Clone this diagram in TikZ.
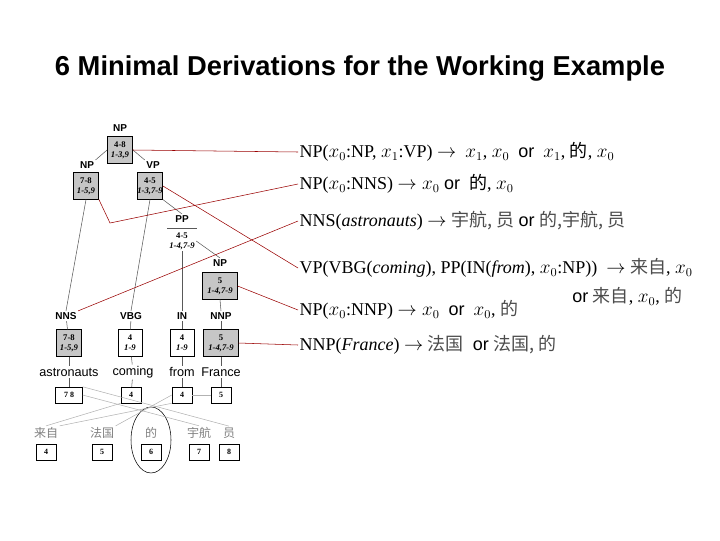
\documentclass[tikz,border=0pt]{standalone}
\usepackage{fontspec}
\setmainfont{Liberation Serif}
\setsansfont{Liberation Sans}
\newfontfamily\cjk{Noto Sans CJK SC}
\begin{document}
\begin{tikzpicture}[x=0.75pt,y=-0.75pt,
  lab/.style={font=\sffamily\bfseries\fontsize{7.5}{8}\selectfont,inner sep=1pt},
  gbox/.style={draw,fill=gray!45,minimum width=19pt,minimum height=20pt,inner sep=0pt,align=center,font=\bfseries\fontsize{6.5}{7.5}\selectfont},
  wbox/.style={gbox,fill=white},
  word/.style={font=\sffamily\fontsize{9.5}{10}\selectfont,inner sep=1pt},
  ibox/.style={draw,minimum width=15pt,minimum height=12pt,inner sep=0pt,font=\bfseries\fontsize{6}{7}\selectfont},
  zh/.style={font=\cjk\fontsize{9}{10}\selectfont,text=gray,inner sep=1pt},
  tl/.style={gray!70!black,thin},
  al/.style={gray!60,thin},
  rl/.style={red!60!black,thin},
  rule/.style={anchor=west,font=\fontsize{13.5}{15}\selectfont,inner sep=1pt}]
\useasboundingbox (0,0) rectangle (720,540);
\node[font=\sffamily\bfseries\fontsize{20.5}{24}\selectfont] (title) at (360,68) {6 Minimal Derivations for the Working Example};
% tree
\node[lab] (lNP0) at (120,128) {NP};
\node[gbox] (bNP0) at (120,150) {4-8\\\textit{1-3,9}};
\node[lab] (lNP1) at (87,165) {NP};
\node[gbox] (bNP1) at (86,186) {7-8\\\textit{1-5,9}};
\node[lab] (lVP) at (153,165) {VP};
\node[gbox] (bVP) at (150,186) {4-5\\\textit{1-3,7-9}};
\node[lab] (lPP) at (182,219) {PP};
\node[align=center,font=\bfseries\fontsize{6.5}{7.5}\selectfont,inner sep=1pt] (bPP) at (182,241) {4-5\\\textit{1-4,7-9}};
\draw[tl] (167,228) -- (197,228);
\node[lab] (lNP2) at (220,263) {NP};
\node[gbox,minimum width=26pt] (bNP2) at (220,286) {5\\\textit{1-4,7-9}};
\node[lab] (lNNS) at (66,316) {NNS};
\node[gbox] (bNNS) at (69,343) {7-8\\\textit{1-5,9}};
\node[lab] (lVBG) at (131,316) {VBG};
\node[wbox,minimum width=18pt] (bVBG) at (130,343) {4\\\textit{1-9}};
\node[lab] (lIN) at (182,316) {IN};
\node[wbox,minimum width=18pt] (bIN) at (182,343) {4\\\textit{1-9}};
\node[lab] (lNNP) at (221,316) {NNP};
\node[gbox,minimum width=26pt] (bNNP) at (221,343) {5\\\textit{1-4,7-9}};
\node[word] (wA) at (69,372) {astronauts};
\node[word] (wC) at (133,372) {coming};
\node[word] (wF) at (182,372) {from};
\node[word] (wR) at (221,372) {France};
\node[ibox,minimum width=20pt] (i78) at (69,395) {7 8};
\node[ibox] (i4a) at (131,395) {4};
\node[ibox] (i4b) at (182,395) {4};
\node[ibox] (i5) at (221,395) {5};
\node[zh] (z1) at (46,433) {来自};
\node[zh] (z2) at (102,433) {法国};
\node[zh] (z3) at (151,433) {的};
\node[zh] (z4) at (199,433) {宇航};
\node[zh] (z5) at (229,433) {员};
\node[ibox] (j4) at (46,452) {4};
\node[ibox] (j5) at (102,452) {5};
\node[ibox] (j6) at (151,452) {6};
\node[ibox] (j7) at (199,452) {7};
\node[ibox] (j8) at (229,452) {8};
\draw[thin] (151,440) ellipse (20 and 33);
% tree edges
\draw[tl] (bNP0.west) -- (lNP1.north east);
\draw[tl] (bNP0.east) -- (lVP.north west);
\draw[tl] (bNP1.south) -- (lNNS.north);
\draw[tl] (bVP.south) -- (lVBG.north);
\draw[tl] (bVP.south east) -- (lPP.north);
\draw[tl] (bPP.south) -- (lIN.north);
\draw[tl] (bPP.east) -- (lNP2.north);
\draw[tl] (bNP2.south) -- (lNNP.north);
\foreach \l/\b/\w/\i in {lNNS/bNNS/wA/i78,lVBG/bVBG/wC/i4a,lIN/bIN/wF/i4b,lNNP/bNNP/wR/i5}{
  \draw[tl] (\l) -- (\b); \draw[tl] (\b) -- (\w); \draw[tl] (\w) -- (\i);}
% alignments
\draw[al] (i78.east) -- (z4.north);
\draw[al] (i78.north east) -- (z5.north);
\draw[al] (i4a.south west) -- (z1.north);
\draw[al] (i4b.south west) -- (z1.north east);
\draw[al] (i5.west) -- (i4b.east);
\draw[al] (i4b.west) -- (z2.north east);
% rules
\node[rule] (r1) at (298,152) {NP($x_0$:NP, $x_1$:VP) $\rightarrow$ \ $x_1$, $x_0$ \ \textsf{or} \ $x_1$, {\cjk 的}, $x_0$};
\node[rule] (r2) at (298,184) {NP($x_0$:NNS) $\rightarrow x_0$ \textsf{or} \ {\cjk 的}, $x_0$};
\node[rule] (r3) at (298,221) {NNS(\textit{astronauts}) $\rightarrow$ {\cjk\color{gray!60!black}宇航, 员} \textsf{or} {\cjk\color{gray!60!black}的,宇航, 员}};
\node[rule] (r4) at (298,268) {VP(VBG(\textit{coming}), PP(IN(\textit{from}), $x_0$:NP)) \ $\rightarrow$ {\cjk\color{gray!60!black}来自}, $x_0$};
\node[rule,anchor=east] (r4b) at (684,296) {\textsf{or} {\cjk\color{gray!60!black}来自}, $x_0$, {\cjk\color{gray!60!black}的}};
\node[rule] (r5) at (298,310) {NP($x_0$:NNP) $\rightarrow x_0$ \ \textsf{or} \ $x_0$, {\cjk\color{gray!60!black}的}};
\node[rule] (r6) at (298,345) {NNP(\textit{France}) $\rightarrow$ {\cjk\color{gray!60!black}法国} \ \textsf{or} {\cjk\color{gray!60!black}法国, 的}};
% red links
\draw[rl] (bNP0.east) -- (r1.west);
\draw[rl] (bNP1.south east) -- (110,223) -- (r2.west);
\draw[rl] (lNNS.north east) -- (r3.west);
\draw[rl] (bVP.east) -- (r4.west);
\draw[rl] (bNP2.east) -- (r5.west);
\draw[rl] (bNNP.east) -- (r6.west);
\end{tikzpicture}
\end{document}
